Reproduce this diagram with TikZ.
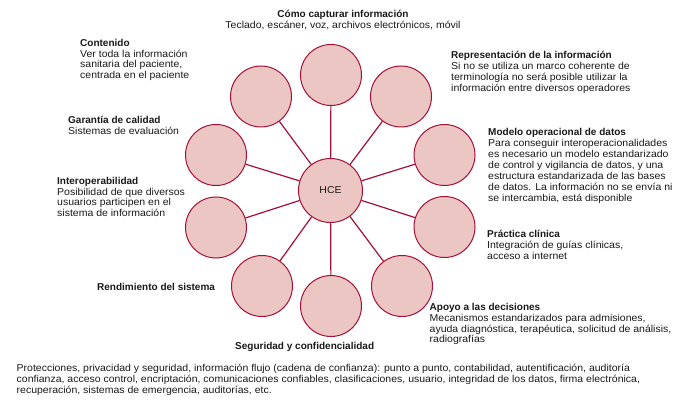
\documentclass[tikz,border=0pt]{standalone}
\usepackage{fontspec}
\setmainfont{Liberation Sans}[FakeStretch=1.05, BoldFeatures={FakeStretch=1.0}]
\definecolor{cfill}{RGB}{235,198,194}
\definecolor{cline}{RGB}{165,15,55}
\definecolor{ctext}{RGB}{25,25,25}
\newcommand{\fs}{\rule{0pt}{8pt}}
\begin{document}
\begin{tikzpicture}[x=1pt,y=-1pt,
  bub/.style={circle,draw=cline,fill=cfill,line width=1pt,minimum size=61pt,inner sep=0pt},
  hub/.style={bub,minimum size=64pt,text=ctext,font=\fontsize{10}{12}\selectfont},
  link/.style={draw=cline,line width=1.2pt},
  lbl/.style={anchor=north west,inner sep=0pt,align=left,text=ctext,font=\fontsize{10}{10.9}\selectfont},
  lblc/.style={lbl,anchor=north,align=center},
]
\useasboundingbox (0,0) rectangle (690,403);
% hub and bubbles
\node[hub] (hce) at (330.5,190.5) {HCE};
\node[bub] (c0) at (331,75) {};
\node[bub] (c1) at (401,96.5) {};
\node[bub] (c2) at (444.5,155) {};
\node[bub] (c3) at (444.5,227) {};
\node[bub] (c4) at (402,286) {};
\node[bub] (c5) at (331,306) {};
\node[bub] (c6) at (262,286) {};
\node[bub] (c7) at (216,227.5) {};
\node[bub] (c8) at (216,155) {};
\node[bub] (c9) at (261,96.5) {};
\foreach \i in {0,...,9} \draw[link] (hce) -- (c\i);
% labels
\node[lblc] (tcap) at (343,9) {\fs\textbf{Cómo capturar información}\\Teclado, escáner, voz, archivos electrónicos, móvil};
\node[lbl] (tcont) at (80,38) {\fs\textbf{Contenido}\\Ver toda la información\\sanitaria del paciente,\\centrada en el paciente};
\node[lbl] (trep) at (451,50.3) {\fs\textbf{Representación de la información}\\Si no se utiliza un marco coherente de\\terminología no será posible utilizar la\\información entre diversos operadores};
\node[lbl] (tgar) at (68,115.3) {\fs\textbf{Garantía de calidad}\\Sistemas de evaluación};
\node[lbl] (tmod) at (488,127.5) {\fs\textbf{Modelo operacional de datos}\\Para conseguir interoperacionalidades\\es necesario un modelo estandarizado\\de control y vigilancia de datos, y una\\estructura estandarizada de las bases\\de datos. La información no se envía ni\\se intercambia, está disponible};
\node[lbl] (tint) at (57,176) {\fs\textbf{Interoperabilidad}\\Posibilidad de que diversos\\usuarios participen en el\\sistema de información};
\node[lbl] (tprac) at (487,229.7) {\fs\textbf{Práctica clínica}\\Integración de guías clínicas,\\acceso a internet};
\node[lbl] (trend) at (97,282) {\fs\textbf{Rendimiento del sistema}};
\node[lbl] (tapo) at (429.5,302) {\fs\textbf{Apoyo a las decisiones}\\Mecanismos estandarizados para admisiones,\\ayuda diagnóstica, terapéutica, solicitud de análisis,\\radiografías};
\node[lbl] (tseg) at (235,341.3) {\fs\textbf{Seguridad y confidencialidad}};
\node[lbl] (tprot) at (16.5,363) {\fs Protecciones, privacidad y seguridad, información flujo (cadena de confianza): punto a punto, contabilidad, autentificación, auditoría\\confianza, acceso control, encriptación, comunicaciones confiables, clasificaciones, usuario, integridad de los datos, firma electrónica,\\recuperación, sistemas de emergencia, auditorías, etc.};
\end{tikzpicture}
\end{document}
